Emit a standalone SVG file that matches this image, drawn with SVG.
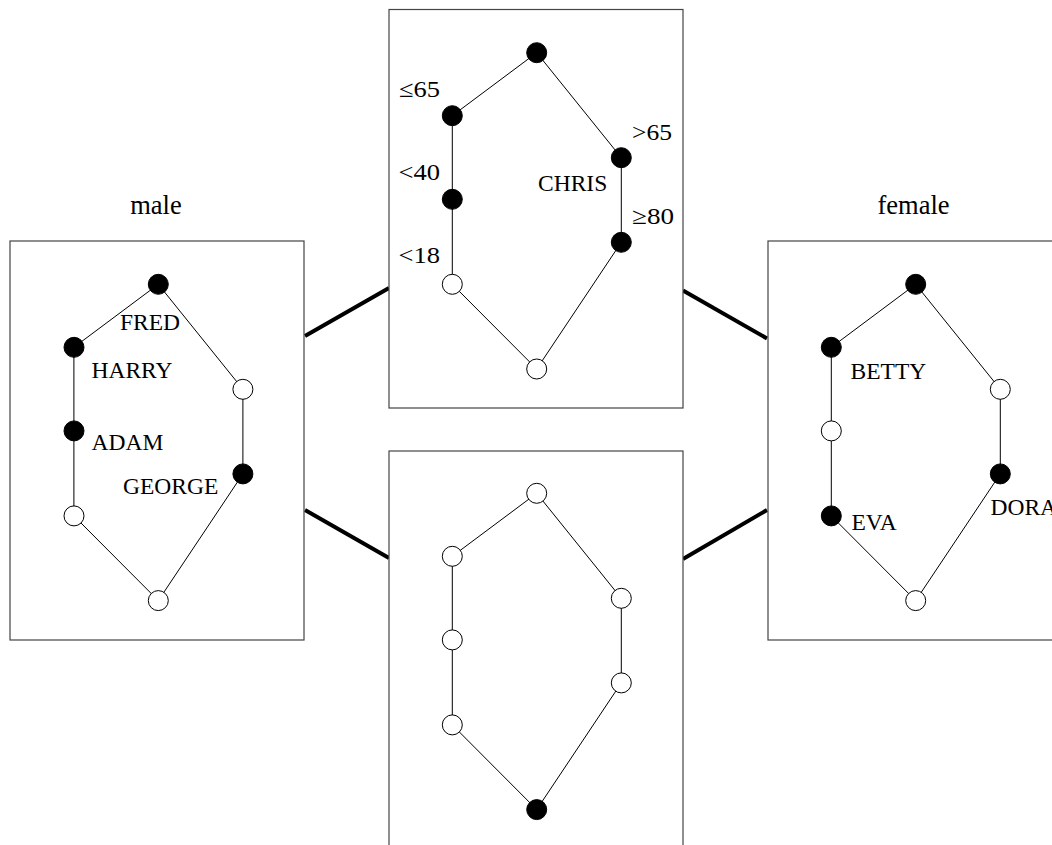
<svg xmlns="http://www.w3.org/2000/svg" width="1052" height="845" viewBox="0 0 1052 845">
<style>
.box{fill:#fff;stroke:#444;stroke-width:1.2}
.edge{stroke:#000;stroke-width:1;fill:none}
.conn{stroke:#000;stroke-width:4;stroke-linecap:butt}
.b{fill:#000;stroke:#000;stroke-width:1}
.w{fill:#fff;stroke:#000;stroke-width:1}
text{font-family:"Liberation Serif","Times New Roman",serif;font-size:23.5px;fill:#000}
.title{font-size:26.5px}
</style>
<defs>
<path id="hex" d="M536.7,52.7 L452.3,115.7 L452.3,284.3 L536.7,369 L621.3,242.3 L621.3,157.7 Z" class="edge"/>
</defs>
<rect x="0" y="0" width="1052" height="845" fill="#fff"/>
<g id="connectors">
<line class="conn" x1="305" y1="336" x2="389" y2="288"/>
<line class="conn" x1="305" y1="510" x2="389" y2="558"/>
<line class="conn" x1="683" y1="290.5" x2="767" y2="338.5"/>
<line class="conn" x1="683" y1="559" x2="767" y2="510"/>
</g>
<g id="top-box">
<rect class="box" x="389" y="9.5" width="294" height="398.5"/>
<use href="#hex"/>
<circle class="b" cx="536.7" cy="52.7" r="10"/>
<circle class="b" cx="452.3" cy="115.7" r="10"/>
<circle class="b" cx="452.3" cy="199.3" r="10"/>
<circle class="w" cx="452.3" cy="284.3" r="10"/>
<circle class="w" cx="536.7" cy="369" r="10"/>
<circle class="b" cx="621.3" cy="157.7" r="10"/>
<circle class="b" cx="621.3" cy="242.3" r="10"/>
<text x="399" y="97" textLength="41" lengthAdjust="spacingAndGlyphs">≤65</text>
<text x="398.5" y="180" textLength="41.5" lengthAdjust="spacingAndGlyphs">&lt;40</text>
<text x="398.5" y="262.5" textLength="41.5" lengthAdjust="spacingAndGlyphs">&lt;18</text>
<text x="632" y="140" textLength="40" lengthAdjust="spacingAndGlyphs">&gt;65</text>
<text x="538" y="190.5">CHRIS</text>
<text x="632" y="224" textLength="42" lengthAdjust="spacingAndGlyphs">≥80</text>
</g>
<g id="male-box">
<text class="title" x="156" y="213.5" text-anchor="middle">male</text>
<rect class="box" x="10" y="241" width="294" height="399"/>
<use href="#hex" transform="translate(-378.4,231.6)"/>
<circle class="b" cx="158.3" cy="284.3" r="10"/>
<circle class="b" cx="74" cy="347.3" r="10"/>
<circle class="b" cx="74" cy="430.9" r="10"/>
<circle class="w" cx="74" cy="515.9" r="10"/>
<circle class="w" cx="158.3" cy="600.6" r="10"/>
<circle class="w" cx="242.9" cy="389.3" r="10"/>
<circle class="b" cx="242.9" cy="473.9" r="10"/>
<text x="120" y="330">FRED</text>
<text x="91.5" y="377.5">HARRY</text>
<text x="91.5" y="450">ADAM</text>
<text x="123" y="494">GEORGE</text>
</g>
<g id="female-box">
<text class="title" x="913.5" y="213.5" text-anchor="middle">female</text>
<rect class="box" x="768" y="241" width="294" height="399"/>
<use href="#hex" transform="translate(379,231.6)"/>
<circle class="b" cx="915.7" cy="284.3" r="10"/>
<circle class="b" cx="831.3" cy="347.3" r="10"/>
<circle class="w" cx="831.3" cy="430.9" r="10"/>
<circle class="b" cx="831.3" cy="515.9" r="10"/>
<circle class="w" cx="915.7" cy="600.6" r="10"/>
<circle class="w" cx="1000.3" cy="389.3" r="10"/>
<circle class="b" cx="1000.3" cy="473.9" r="10"/>
<text x="850.5" y="378.5">BETTY</text>
<text x="851.5" y="529.5">EVA</text>
<text x="990.5" y="515">DORA</text>
</g>
<g id="bottom-box">
<rect class="box" x="389" y="451" width="294" height="400"/>
<use href="#hex" transform="translate(0,440.6)"/>
<circle class="w" cx="536.7" cy="493.3" r="10"/>
<circle class="w" cx="452.3" cy="556.3" r="10"/>
<circle class="w" cx="452.3" cy="639.9" r="10"/>
<circle class="w" cx="452.3" cy="724.9" r="10"/>
<circle class="b" cx="536.7" cy="809.6" r="10"/>
<circle class="w" cx="621.3" cy="598.3" r="10"/>
<circle class="w" cx="621.3" cy="682.9" r="10"/>
</g>
</svg>
